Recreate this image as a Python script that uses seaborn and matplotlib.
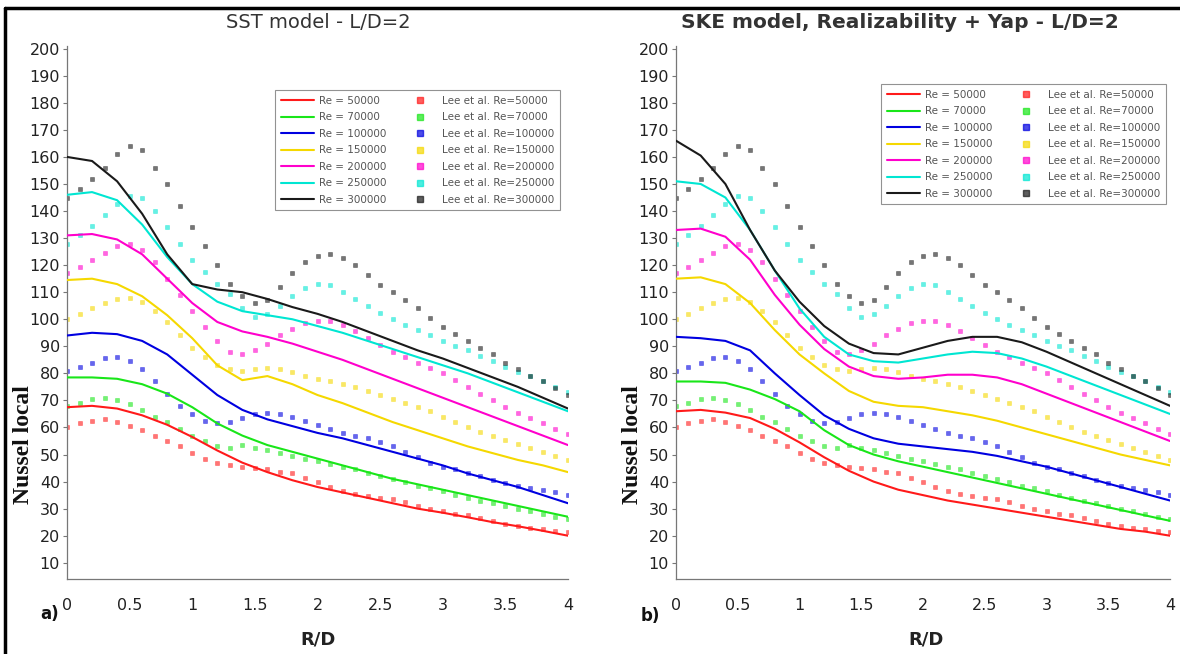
import numpy as np
import pandas as pd
import matplotlib
matplotlib.use("Agg")
import matplotlib.pyplot as plt
import seaborn as sns
from matplotlib.lines import Line2D

# ---------------- data ----------------
R_cfd = [0, 0.2, 0.4, 0.6, 0.8, 1.0, 1.2, 1.4, 1.6, 1.8, 2.0,
         2.2, 2.4, 2.6, 2.8, 3.0, 3.2, 3.4, 3.6, 3.8, 4.0]
R_exp = [0, 0.1, 0.2, 0.3, 0.4, 0.5, 0.6, 0.7, 0.8, 0.9, 1.0,
         1.1, 1.2, 1.3, 1.4, 1.5, 1.6, 1.7, 1.8, 1.9, 2.0,
         2.1, 2.2, 2.3, 2.4, 2.5, 2.6, 2.7, 2.8, 2.9, 3.0,
         3.1, 3.2, 3.3, 3.4, 3.5, 3.6, 3.7, 3.8, 3.9, 4.0]

re_values = ["50000", "70000", "100000", "150000", "200000", "250000", "300000"]
colors = ["#ff1a1a", "#19e619", "#0000e0", "#f5d800", "#ff00cc", "#00e6d2", "#1a1a1a"]

# Lee et al. experimental data (same in both panels)
exp_red = [60, 61.5, 62.5, 63, 62, 60.5, 59, 57, 55, 53, 50.5, 48.5, 47, 46, 45.5, 45, 44.5, 43.5, 43, 41.5,
           40, 38, 36.5, 35.5, 34.5, 34, 33.5, 32.5, 31, 30, 29, 28, 27.5, 26.5, 25.5, 24.5, 23.5, 22.8, 22.3, 21.8, 21.3]
exp_green = [68, 69, 70.5, 71, 70, 68.5, 66.5, 64, 62, 59.5, 57, 55, 53, 52.5, 53.5, 52.5, 51.5, 50.5, 49.5, 48.5,
             47.5, 46.5, 45.5, 44.5, 43, 42, 41, 40, 38.5, 37.5, 36.5, 35, 34, 33, 32, 31, 30, 29, 28, 27, 26]
exp_blue = [81, 82.5, 84, 85.5, 86, 84.5, 81.5, 77, 72.5, 68, 65, 62.5, 61.5, 62, 63.5, 65, 65.5, 65, 64, 62.5,
            61, 59.5, 58, 57, 56, 54.5, 53, 51, 49, 47, 45.5, 44.5, 43, 42, 40.5, 39.5, 38.5, 37.5, 37, 36, 35]
exp_yellow = [100, 102, 104, 106, 107.5, 108, 106.5, 103, 99, 94, 89.5, 86, 83, 81.5, 81, 81.5, 82, 81.5, 80.5, 79,
              78, 77, 76, 75, 73.5, 72, 70.5, 69, 67.5, 66, 64, 62, 60, 58.5, 57, 55.5, 54, 52.5, 51, 49.5, 48]
exp_magenta = [117, 119.5, 122, 124.5, 127, 128, 125.5, 121, 115, 109, 103, 97, 92, 88, 87, 88.5, 91, 94, 96.5, 98.5,
               99.5, 99.5, 98, 95.5, 93, 90.5, 88, 86, 84, 82, 80, 77.5, 75, 72.5, 70, 67.5, 65.5, 63.5, 61.5, 59.5, 57.5]
exp_cyan = [128, 131, 134.5, 138.5, 142.5, 145.5, 145, 140, 134, 128, 122, 117.5, 113, 109.5, 104, 101, 102, 105, 108.5, 111.5,
            113, 112.5, 110, 107.5, 105, 102.5, 100, 98, 96, 94, 92, 90, 88.5, 86.5, 84.5, 82.5, 80.5, 79, 77, 75, 73]
exp_black = [145, 148, 152, 156, 161, 164, 162.5, 156, 150, 142, 134, 127, 120, 113, 108.5, 106, 107, 112, 117, 121,
             123.5, 124, 122.5, 120, 116.5, 112.5, 110, 107, 104, 100.5, 97, 94.5, 92, 89.5, 87, 84, 81.5, 79, 77, 74.5, 72]

# SST model (panel a)
sst_red = [67.5, 68, 67, 64.5, 61, 56.5, 51.5, 47, 43.5, 40.5, 38, 36, 34, 32, 30, 28.5, 26.8, 25, 23.5, 21.8, 20]
sst_green = [78.5, 78.5, 78, 76, 72.5, 67.5, 61.5, 57, 53.5, 51, 48.5, 46, 43.5, 41, 39, 37, 35, 33, 31, 29, 27]
sst_blue = [94, 95, 94.5, 92, 87, 79.5, 72, 66.5, 63, 60.5, 58, 56, 53.5, 51, 48.5, 46, 43, 40.5, 38, 35, 32]
sst_yellow = [114.5, 115, 113, 108.5, 101.5, 93, 83, 77.5, 79, 76, 72, 69, 65.5, 62, 59, 56, 53, 50.5, 48, 46, 43.5]
sst_magenta = [131, 131.5, 129.5, 124, 115, 106, 99, 95.5, 93.5, 91, 88, 85, 81.5, 78, 74.5, 71, 67.5, 64, 60.5, 57, 53.5]
sst_cyan = [146, 147, 144, 135, 123, 113, 106.5, 103, 101.5, 100, 97.5, 95, 92, 89, 86, 83, 80, 76.5, 73, 69.5, 66]
sst_black = [160, 158.5, 151, 139, 124, 113, 111, 110, 107.5, 104.5, 102, 99, 95.5, 92, 88.5, 85.5, 82, 78.5, 75, 71, 67]

# SKE realizable + Yap (panel b)
ske_red = [66, 66.5, 65.5, 63.5, 59.5, 54.5, 49, 44, 40, 37, 35, 33, 31.5, 30, 28.5, 27, 25.5, 24, 22.5, 21.5, 20]
ske_green = [77, 77, 76.5, 74, 70.5, 66, 59, 53.5, 50, 47.5, 45.5, 43.5, 41.5, 39.5, 37.5, 35.5, 33.5, 31.5, 29.5, 27.5, 25.5]
ske_blue = [93.5, 93, 92, 88.5, 80, 72, 64.5, 59.5, 56, 54, 53, 52, 51, 49.5, 47.5, 45.5, 43, 40.5, 38, 35.5, 33]
ske_yellow = [115, 115.5, 113, 106, 96, 87, 80, 73.5, 69.5, 68, 67.5, 66, 64.5, 62.5, 60, 57.5, 55, 52.5, 50, 48, 46]
ske_magenta = [133, 133.5, 130.5, 122, 109, 98, 89, 82.5, 79, 78, 78.5, 79.5, 79.5, 78.5, 76, 72.5, 69, 65.5, 62, 58.5, 55]
ske_cyan = [151, 150, 145, 133, 118, 104, 93.5, 87, 84.5, 84, 85.5, 87, 88, 87.5, 85.5, 82.5, 79, 75.5, 72, 68.5, 65]
ske_black = [166, 160.5, 150, 133, 118, 106.5, 97.5, 91, 87.5, 87, 89.5, 92, 93.5, 93.5, 91.5, 88, 84, 80, 76, 72, 68]

x_ticks = [0, 0.5, 1, 1.5, 2, 2.5, 3, 3.5, 4]
x_ticklabels = ["0", "0.5", "1", "1.5", "2", "2.5", "3", "3.5", "4"]
y_ticks = [10, 20, 30, 40, 50, 60, 70, 80, 90, 100, 110, 120, 130, 140, 150, 160, 170, 180, 190, 200]

exp_all = [exp_red, exp_green, exp_blue, exp_yellow, exp_magenta, exp_cyan, exp_black]
sst_all = [sst_red, sst_green, sst_blue, sst_yellow, sst_magenta, sst_cyan, sst_black]
ske_all = [ske_red, ske_green, ske_blue, ske_yellow, ske_magenta, ske_cyan, ske_black]

# ---------------- plotting ----------------
sns.set_theme(style="ticks")
plt.rcParams['font.family'] = ['DejaVu Sans']

W, H = 1180, 654
fig = plt.figure(figsize=(W / 100, H / 100), dpi=100)
fig.patch.set_facecolor("white")

axL = fig.add_axes([67 / W, 1 - 579 / H, 501 / W, 533 / H])
axR = fig.add_axes([676 / W, 1 - 579 / H, 494 / W, 533 / H])


def draw_panel(ax, cfd):
    for i in range(7):
        df_e = pd.DataFrame({"R": R_exp, "Nu": exp_all[i]})
        sns.scatterplot(data=df_e, x="R", y="Nu", color=colors[i], marker="s", s=11,
                        alpha=0.6, edgecolor=colors[i], linewidth=0.4, ax=ax, legend=False, zorder=2)
    for i in range(7):
        df_c = pd.DataFrame({"R": R_cfd, "Nu": cfd[i]})
        sns.lineplot(data=df_c, x="R", y="Nu", color=colors[i], lw=1.5, ax=ax, legend=False, zorder=3)
    ax.set_xlim(0, 4)
    ax.set_ylim(4, 201)
    ax.set_xticks(x_ticks)
    ax.set_xticklabels(x_ticklabels)
    ax.set_yticks(y_ticks)
    ax.set_yticklabels([str(v) for v in y_ticks])
    ax.set_xlabel("")
    ax.set_ylabel("")
    ax.set_facecolor("white")
    for s in ["top", "right"]:
        ax.spines[s].set_visible(False)
    for s in ["left", "bottom"]:
        ax.spines[s].set_color("#777777")
        ax.spines[s].set_linewidth(0.9)
    ax.tick_params(axis="y", labelsize=11.5, colors="#222222", length=3, width=0.8, pad=2)
    ax.tick_params(axis="x", labelsize=11.5, colors="#222222", length=0, pad=14)
    ax.tick_params(axis="both", color="#777777")


draw_panel(axL, sst_all)
draw_panel(axR, ske_all)

# legends
line_handles = [Line2D([0], [0], color=c, lw=1.5) for c in colors]
mark_handles = [Line2D([0], [0], color=c, lw=0, marker="s", markersize=4, alpha=0.7) for c in colors]
labels = ["Re = " + r for r in re_values] + ["Lee et al. Re=" + r for r in re_values]
for ax, (lx, ly) in [(axL, (270, 85)), (axR, (876, 79))]:
    leg = ax.legend(line_handles + mark_handles, labels, ncol=2, loc="upper left",
                    bbox_to_anchor=(lx / W, 1 - ly / H), bbox_transform=fig.transFigure,
                    fontsize=7.5, frameon=True, fancybox=False, edgecolor="#777777",
                    labelspacing=0.62, handlelength=3.2, handletextpad=0.5,
                    columnspacing=1.6, borderpad=0.55)
    leg.get_frame().set_linewidth(0.8)
    for t in leg.get_texts():
        t.set_color("#555555")

# titles
fig.text(318 / W, 1 - 22 / H, "SST model - L/D=2", ha="center", va="center",
         fontsize=14, color="#333333")
fig.text(900 / W, 1 - 22 / H, "SKE model, Realizability + Yap - L/D=2", ha="center", va="center",
         fontsize=14.5, color="#333333", fontweight="semibold")

# axis labels
for cx in (318, 926):
    fig.text(cx / W, 1 - 640 / H, "R/D", ha="center", va="center", fontsize=13,
             fontweight="bold", color="#222222")
for cx in (24, 633):
    fig.text(cx / W, 1 - 445 / H, "Nussel local", ha="center", va="center", rotation=90,
             fontsize=17, fontweight="bold", family="Liberation Serif", color="#111111")

fig.text(50 / W, 1 - 614 / H, "a)", ha="center", va="center", fontsize=12,
         fontweight="bold", color="#111111")
fig.text(650 / W, 1 - 616 / H, "b)", ha="center", va="center", fontsize=12,
         fontweight="bold", color="#111111")

# outer frame lines
fig.add_artist(Line2D([5 / W, 5 / W], [0, 1 - 8 / H], transform=fig.transFigure, color="black", lw=2.5))
fig.add_artist(Line2D([5 / W, 1], [1 - 8 / H, 1 - 8 / H], transform=fig.transFigure, color="black", lw=2.5))

fig.savefig("out.png", dpi=100)
